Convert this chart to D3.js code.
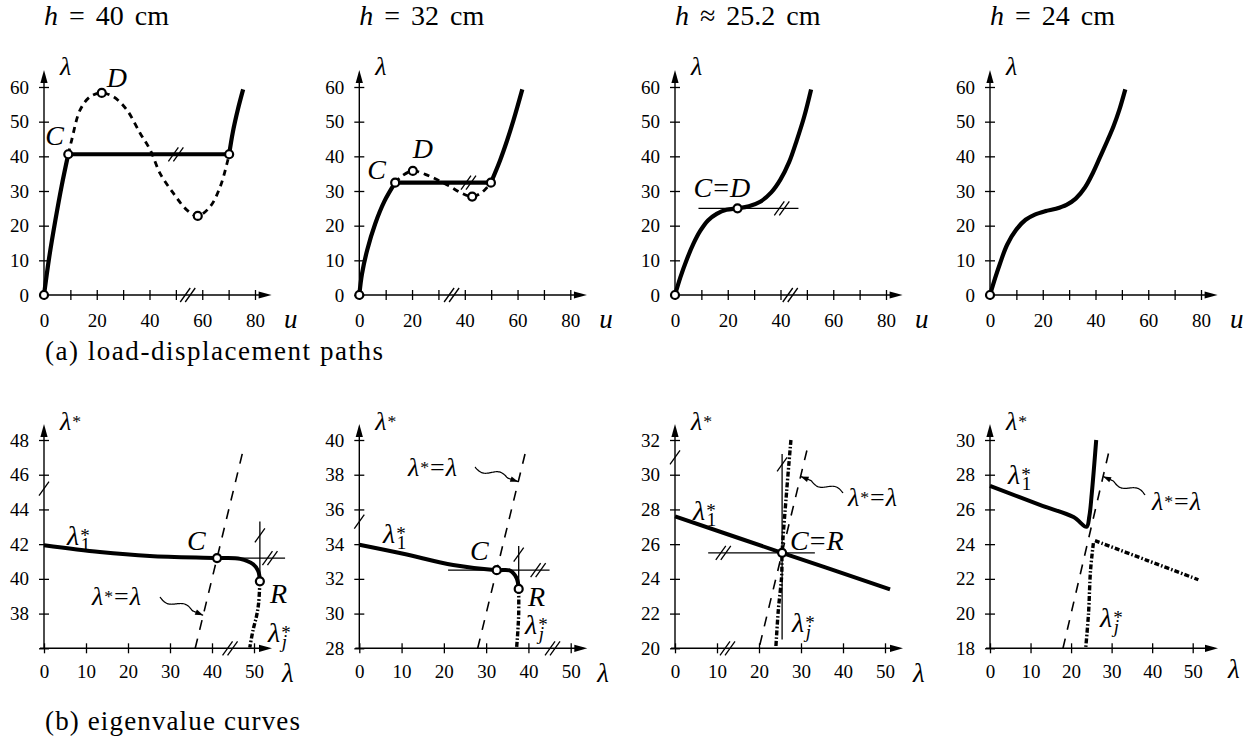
<!DOCTYPE html>
<html><head><meta charset="utf-8">
<script src="https://cdn.jsdelivr.net/npm/d3@7"></script>
<style>
body{margin:0;background:#fff}
</style></head><body>
<svg id="fig" width="1260" height="746"></svg>
<script>
// ---------- data ----------
const heights = ["40", "32", "25.2", "24"];
const heightRel = ["=", "=", "\u2248", "="];

const uTicks = [0, 10, 20, 30, 40, 50, 60, 70, 80];
const uTickLabels = [0, 20, 40, 60, 80];
const lamTicks = [0, 10, 20, 30, 40, 50, 60];
const lamAxisTicks = [0, 10, 20, 30, 40, 50];

// (a) load-displacement paths, [u, λ]
const riseA1 = [[0,0],[2,11],[4.3,21.5],[6.7,31.5],[9.2,40.6]];
const plateauA1 = [[9.2,40.6],[70.2,40.6]];
const stiffA1 = [[70.2,40.6],[71.6,47],[73.5,53.5],[75.5,59.3]];
const unstableA1 = [[9.2,40.6],[10.5,44.7],[13.7,53.4],[17.5,57.2],[21.9,58.3],[26.3,57.2],[31.4,53.4],[36.5,46.6],[40.3,41.8],[44,35.1],[49.1,29.3],[54.2,24.5],[58.3,22.8],[63,25.5],[66.8,31.2],[69.4,38],[70.2,40.6]];
const pointsA1 = [[0,0],[9.2,40.6],[21.9,58.3],[58.3,22.8],[70.2,40.6]];

const riseA2 = [[0,0],[1,6],[3,13],[6,20.5],[9.5,27],[13.6,32.4]];
const plateauA2 = [[13.6,32.4],[49.9,32.4]];
const stiffA2 = [[49.9,32.4],[53.4,38.9],[56,44.5],[58.5,50.5],[61.8,59.3]];
const unstableA2 = [[13.6,32.4],[16.5,34.5],[20.3,35.8],[25,34.8],[29.4,33.3],[34,31.5],[38.5,29.5],[42.8,28.4],[46.5,29.6],[49.9,32.4]];
const pointsA2 = [[0,0],[13.6,32.4],[20.3,35.8],[42.8,28.4],[49.9,32.4]];

const curveA3 = [[0,0],[2,5],[4.4,10.1],[7,14.8],[9.5,18.4],[12.5,21.5],[15.8,23.4],[19.5,24.6],[23.7,25],[28,25.6],[32.3,26.9],[36.5,29.6],[39.9,33.2],[43.3,38.4],[46.2,44.7],[49,51.5],[51.6,59.3]];
const tangentA3 = [[8.9,25],[46.8,25]];
const pointsA3 = [[0,0],[23.7,25]];

const curveA4 = [[0,0],[2,5],[3.8,9.1],[6.5,14.5],[10.1,19],[13.5,21.7],[17,23.2],[21,24.2],[25,24.9],[29,26],[32.5,27.8],[36,31],[39,35.2],[41.8,39.9],[44.5,44.5],[46.8,48.6],[49,53.3],[51.3,59.3]];
const pointsA4 = [[0,0]];

// (b) eigenvalue curves, [λ, λ*]
const lam1B1 = [[0,41.94],[13.3,41.55],[25.2,41.32],[41.2,41.2],[46.7,41.15],[49.8,40.84],[51,40.45],[51.4,39.86]];
const lamjB1 = [[51.4,39.86],[51.1,38.6],[50.6,37.85],[49.8,37.08],[49.0,36.05]];
const diagB1 = [[36,36],[47.7,47.7]];
const thinB1 = [[[41.2,41.2],[57.4,41.2]], [[51.4,39.86],[51.4,43.3]]];
const pointsB1 = [[41.2,41.2],[51.4,39.86]];

const lam1B2 = [[0,33.97],[10.4,33.45],[22.2,32.8],[32.5,32.5],[35.6,32.48],[37.2,32.05],[37.7,31.42]];
const lamjB2 = [[37.7,31.42],[37.7,30],[37.5,29],[37.2,28]];
const diagB2 = [[28,28],[39.6,39.6]];
const thinB2 = [[[21,32.5],[45,32.5]], [[37.7,31.42],[37.7,33.9]]];
const pointsB2 = [[32.5,32.5],[37.7,31.42]];

const lam1B3 = [[0,27.6],[25.5,25.5],[51.2,23.4]];
const lamjB3 = [[27.6,32],[26.6,29.1],[25.5,25.5],[25.4,24.2],[24.6,22.2],[24,20]];
const diagB3 = [[20.2,20.2],[31.6,31.6]];
const thinB3 = [[[7.9,25.5],[33.3,25.5]], [[25.5,20.5],[25.5,31.2]]];
const pointsB3 = [[25.5,25.5]];

const lam1B4 = [[0,27.36],[12.3,26.26],[20.6,25.56],[23.8,25.0],[24.5,25.6],[25.1,26.9],[26.2,30]];
const lamjB4 = [[25.5,24.06],[24.8,22.5],[24.3,20],[23.6,18]];
const lamkB4 = [[25.9,24.2],[38.7,23.07],[51.4,21.95]];
const diagB4 = [[18,18],[29.6,29.6]];

const bYMin = [36, 28, 20, 18];
const bYLabelStart = [38, 28, 20, 18];

// ---------- drawing helpers ----------
const svg = d3.select("#fig");
const INK = "#000";
const FONT = "'Liberation Serif', 'Times New Roman', serif";

function arrowHead(g, x, y, dir) {
  const L = 13, W = 3.6;
  const p = dir === "up" ? [[x,y],[x-W,y+L],[x+W,y+L]] : [[x,y],[x-L,y-W],[x-L,y+W]];
  g.append("path").attr("d", "M" + p.join("L") + "Z").attr("fill", INK);
}

function breakMark(g, px, py, n) {
  for (let k = 0; k < n; k++) {
    const off = (k - (n - 1) / 2) * 5;
    g.append("line")
      .attr("x1", px + off - 5).attr("y1", py + 7)
      .attr("x2", px + off + 5).attr("y2", py - 7)
      .attr("stroke", INK).attr("stroke-width", 1.3);
  }
}

function squiggle(g, x1, y1, x2, y2) {
  const dx = x2 - x1, dy = y2 - y1, len = Math.hypot(dx, dy);
  const ux = dx / len, uy = dy / len, nx = -uy, ny = ux;
  const pts = d3.range(0, 1.0001, 0.02).map(t => {
    const a = t < 0.75 ? 3.2 * Math.sin(t / 0.75 * 2 * Math.PI) : 0;
    return [x1 + dx * t + nx * a, y1 + dy * t + ny * a];
  });
  g.append("path").attr("d", d3.line().curve(d3.curveBasis)(pts))
    .attr("fill", "none").attr("stroke", INK).attr("stroke-width", 1.2);
  const L = 8, W = 2.8;
  const h = [[x2, y2], [x2 - ux * L + nx * W, y2 - uy * L + ny * W], [x2 - ux * L - nx * W, y2 - uy * L - ny * W]];
  g.append("path").attr("d", "M" + h.join("L") + "Z").attr("fill", INK);
}

function txt(g, x, y, size) {
  return g.append("text").attr("x", x).attr("y", y).attr("font-size", size)
    .style("font-family", FONT).attr("fill", INK);
}

function italic(g, x, y, s, size) {
  return txt(g, x, y, size).attr("font-style", "italic").text(s);
}

// λ with a superscript star and an optional subscript, as one text element
function starLam(t, x, size, sub, subItalic) {
  const l = t.append("tspan").attr("font-style", "italic").text("\u03bb");
  const w = l.node().getComputedTextLength();
  t.append("tspan").attr("dx", 1).attr("dy", -size * 0.12).attr("font-size", size * 0.68).text("*");
  if (sub) {
    t.append("tspan").attr("x", x + w + 1.5).attr("dy", size * 0.32).attr("font-size", size * 0.68)
      .attr("font-style", subItalic ? "italic" : "normal").text(sub);
  }
}

function starLabel(g, x, y, size, sub, subItalic) {
  starLam(txt(g, x, y, size), x, size, sub, subItalic);
}

function eqLabel(g, x, y, size) {
  const t = txt(g, x, y, size);
  starLam(t, x, size);
  t.append("tspan").attr("dx", 1).attr("dy", size * 0.12).text("=");
  t.append("tspan").attr("dx", 1).attr("font-style", "italic").text("\u03bb");
}

function eqPair(g, x, y, a, b, size) {
  const t = txt(g, x, y, size);
  t.append("tspan").attr("font-style", "italic").text(a);
  t.append("tspan").attr("dx", 1).text("=");
  t.append("tspan").attr("dx", 1).attr("font-style", "italic").text(b);
}

function styleAxis(sel, size) {
  sel.attr("font-family", null).attr("font-size", size);
  sel.selectAll("text").style("font-family", FONT).attr("fill", INK);
  sel.select(".domain").remove();
  sel.selectAll("line").attr("stroke-width", 1.3);
}

function circles(g, pts, x, y) {
  g.selectAll(null).data(pts).join("circle")
    .attr("cx", d => x(d[0])).attr("cy", d => y(d[1])).attr("r", 4)
    .attr("fill", "#fff").attr("stroke", INK).attr("stroke-width", 2.2);
}

// ---------- top row: load-displacement paths ----------
const topX0 = [44, 359.3, 675, 990];
const topPanels = [
  { solid: [riseA1, plateauA1, stiffA1], dashed: [unstableA1], thin: [], pts: pointsA1,
    breaks: [[50, 40.6, 2], [54.5, 0, 2]],
    labels: [["C", 9.2, 40.6, -23, -9], ["D", 21.9, 58.3, 5, -6]] },
  { solid: [riseA2, plateauA2, stiffA2], dashed: [unstableA2], thin: [], pts: pointsA2,
    breaks: [[41.4, 32.4, 2], [35, 0, 2]],
    labels: [["C", 13.6, 32.4, -28, -4], ["D", 20.3, 35.8, 0, -13]] },
  { solid: [curveA3], dashed: [], thin: [tangentA3], pts: pointsA3,
    breaks: [[40.5, 25, 2], [43.7, 0, 2]], eq: ["C", "D", 23.7, 25, -44, -11], labels: [] },
  { solid: [curveA4], dashed: [], thin: [], pts: pointsA4, breaks: [], labels: [] }
];

topPanels.forEach((p, i) => {
  const x0 = topX0[i];
  const g = svg.append("g");
  const x = d3.scaleLinear().domain([0, 80]).range([x0, x0 + 211]);
  const y = d3.scaleLinear().domain([0, 60]).range([295, 87]);

  // title
  const tt = txt(g, x0, 25, 28).attr("word-spacing", 4);
  tt.append("tspan").attr("font-style", "italic").text("h");
  tt.append("tspan").text(` ${heightRel[i]} ${heights[i]} cm`);

  // axes
  g.append("line").attr("x1", x(0)).attr("x2", x(86.3) - 4).attr("y1", y(0)).attr("y2", y(0))
    .attr("stroke", INK).attr("stroke-width", 1.4);
  arrowHead(g, x(86.3), y(0), "right");
  g.append("line").attr("x1", x(0)).attr("x2", x(0)).attr("y1", y(0)).attr("y2", y(64.9) + 4)
    .attr("stroke", INK).attr("stroke-width", 1.4);
  arrowHead(g, x(0), y(64.9), "up");

  g.append("g").attr("transform", `translate(0,${y(0)})`)
    .call(d3.axisBottom(x).tickValues(uTicks).tickSize(5).tickPadding(14)
      .tickFormat(d => uTickLabels.includes(d) ? d : ""))
    .call(s => styleAxis(s, 19));
  g.append("g").attr("transform", `translate(0,${y(0)})`)
    .call(d3.axisTop(x).tickValues(uTicks).tickSize(5).tickFormat(""))
    .call(s => styleAxis(s, 19));
  g.append("g").attr("transform", `translate(${x(0)},0)`)
    .call(d3.axisLeft(y).tickValues(lamTicks).tickSize(5).tickPadding(10))
    .call(s => styleAxis(s, 19));
  g.append("g").attr("transform", `translate(${x(0)},0)`)
    .call(d3.axisRight(y).tickValues(lamTicks).tickSize(5).tickFormat(""))
    .call(s => styleAxis(s, 19));

  italic(g, x0 + 16, 75, "\u03bb", 26);
  italic(g, x0 + 240, 328, "u", 27);

  const line = d3.line().x(d => x(d[0])).y(d => y(d[1])).curve(d3.curveCatmullRom.alpha(0.5));
  p.thin.forEach(d => g.append("path").attr("d", line(d)).attr("fill", "none")
    .attr("stroke", INK).attr("stroke-width", 1.3));
  p.dashed.forEach(d => g.append("path").attr("d", line(d)).attr("fill", "none")
    .attr("stroke", INK).attr("stroke-width", 2.8).attr("stroke-dasharray", "6,5"));
  p.solid.forEach(d => g.append("path").attr("d", line(d)).attr("fill", "none")
    .attr("stroke", INK).attr("stroke-width", 4.2).attr("stroke-linejoin", "round"));
  p.breaks.forEach(b => breakMark(g, x(b[0]), y(b[1]), b[2]));
  circles(g, p.pts, x, y);
  p.labels.forEach(l => italic(g, x(l[1]) + l[3], y(l[2]) + l[4], l[0], 28));
  if (p.eq) eqPair(g, x(p.eq[2]) + p.eq[4], y(p.eq[3]) + p.eq[5], p.eq[0], p.eq[1], 28);
});

txt(svg, 45, 360, 27).attr("textLength", 338).attr("lengthAdjust", "spacing")
  .text("(a) load-displacement paths");

// ---------- bottom row: eigenvalue curves ----------
const botW = [210, 211.4, 210, 202.7];
const botPanels = [
  { lam1: lam1B1, lamj: [lamjB1], diag: diagB1, thin: thinB1, pts: pointsB1,
    breaks: [[0, 45.2, 1], [44.3, 36, 2], [53.8, 41.2, 2], [51.4, 42.5, 1]],
    lam1Lbl: [67, 545], C: [187, 550], R: [270, 603], lamjLbl: [268, 642],
    eqLbl: [92, 605], arrow: [160, 597, 37.9] },
  { lam1: lam1B2, lamj: [lamjB2], diag: diagB2, thin: thinB2, pts: pointsB2,
    breaks: [[0, 35.3, 1], [45.7, 28, 2], [42.3, 32.5, 2], [37.7, 33.4, 1]],
    lam1Lbl: [383, 543], C: [470, 560], R: [528, 606], lamjLbl: [525, 634],
    eqLbl: [408, 476], arrow: [475, 467, 37.6] },
  { lam1: lam1B3, lamj: [lamjB3], diag: diagB3, thin: thinB3, pts: pointsB3,
    breaks: [[0, 31, 1], [12.5, 20, 2], [11.5, 25.5, 2], [25.5, 30.6, 1]],
    lam1Lbl: [693, 520], CR: [790, 550], lamjLbl: [792, 632],
    eqLbl: [848, 506], arrow: [843, 493, 29.9] },
  { lam1: lam1B4, lamj: [lamjB4, lamkB4], diag: diagB4, thin: [], pts: [],
    breaks: [],
    lam1Lbl: [1008, 484], lamjLbl: [1100, 627],
    eqLbl: [1152, 510], arrow: [1145, 495, 27.9] }
];

botPanels.forEach((p, i) => {
  const x0 = topX0[i];
  const g = svg.append("g");
  const yMin = bYMin[i];
  const x = d3.scaleLinear().domain([0, 50]).range([x0, x0 + botW[i]]);
  const y = d3.scaleLinear().domain([yMin, yMin + 12]).range([648.3, 440]);
  const yTicks = d3.range(yMin, yMin + 12.01, 2);
  const tipX = x.invert(x0 + 228), tipY = y.invert(424);

  g.append("line").attr("x1", x(0) - 4).attr("x2", x(tipX) - 4).attr("y1", y(yMin)).attr("y2", y(yMin))
    .attr("stroke", INK).attr("stroke-width", 1.4);
  arrowHead(g, x(tipX), y(yMin), "right");
  g.append("line").attr("x1", x(0)).attr("x2", x(0)).attr("y1", y(yMin)).attr("y2", y(tipY) + 4)
    .attr("stroke", INK).attr("stroke-width", 1.4);
  arrowHead(g, x(0), y(tipY), "up");

  g.append("g").attr("transform", `translate(0,${y(yMin)})`)
    .call(d3.axisBottom(x).tickValues(lamAxisTicks).tickSize(5).tickPadding(11))
    .call(s => styleAxis(s, 19));
  g.append("g").attr("transform", `translate(0,${y(yMin)})`)
    .call(d3.axisTop(x).tickValues(lamAxisTicks).tickSize(5).tickFormat(""))
    .call(s => styleAxis(s, 19));
  g.append("g").attr("transform", `translate(${x(0)},0)`)
    .call(d3.axisLeft(y).tickValues(yTicks).tickSize(5).tickPadding(10)
      .tickFormat(d => d >= bYLabelStart[i] ? d : ""))
    .call(s => styleAxis(s, 19));
  g.append("g").attr("transform", `translate(${x(0)},0)`)
    .call(d3.axisRight(y).tickValues(yTicks).tickSize(5).tickFormat(""))
    .call(s => styleAxis(s, 19));

  starLabel(g, x0 + 16, 430, 26);
  italic(g, x0 + 238, i === 3 ? 678 : 682, "\u03bb", 27);

  const line = d3.line().x(d => x(d[0])).y(d => y(d[1])).curve(d3.curveCatmullRom.alpha(0.5));
  p.thin.forEach(d => g.append("path").attr("d", line(d)).attr("fill", "none")
    .attr("stroke", INK).attr("stroke-width", 1.3));
  g.append("path").attr("d", line(p.diag)).attr("fill", "none")
    .attr("stroke", INK).attr("stroke-width", 1.6).attr("stroke-dasharray", "10,9");
  p.lamj.forEach(d => g.append("path").attr("d", line(d)).attr("fill", "none")
    .attr("stroke", INK).attr("stroke-width", 3.4).attr("stroke-dasharray", "5,2,1.6,2"));
  g.append("path").attr("d", line(p.lam1)).attr("fill", "none")
    .attr("stroke", INK).attr("stroke-width", 4).attr("stroke-linejoin", "round");
  p.breaks.forEach(b => breakMark(g, x(b[0]), y(b[1]), b[2]));
  circles(g, p.pts, x, y);

  starLabel(g, p.lam1Lbl[0], p.lam1Lbl[1], 28, "1", false);
  starLabel(g, p.lamjLbl[0], p.lamjLbl[1], 28, "j", true);
  if (p.C) italic(g, p.C[0], p.C[1], "C", 28);
  if (p.R) italic(g, p.R[0], p.R[1], "R", 28);
  if (p.CR) eqPair(g, p.CR[0], p.CR[1], "C", "R", 28);
  eqLabel(g, p.eqLbl[0], p.eqLbl[1], 26);
  const a = p.arrow;
  squiggle(g, a[0], a[1], x(a[2]), y(a[2]));
});

txt(svg, 45, 730, 27).attr("textLength", 255).attr("lengthAdjust", "spacing")
  .text("(b) eigenvalue curves");
</script>
</body></html>
